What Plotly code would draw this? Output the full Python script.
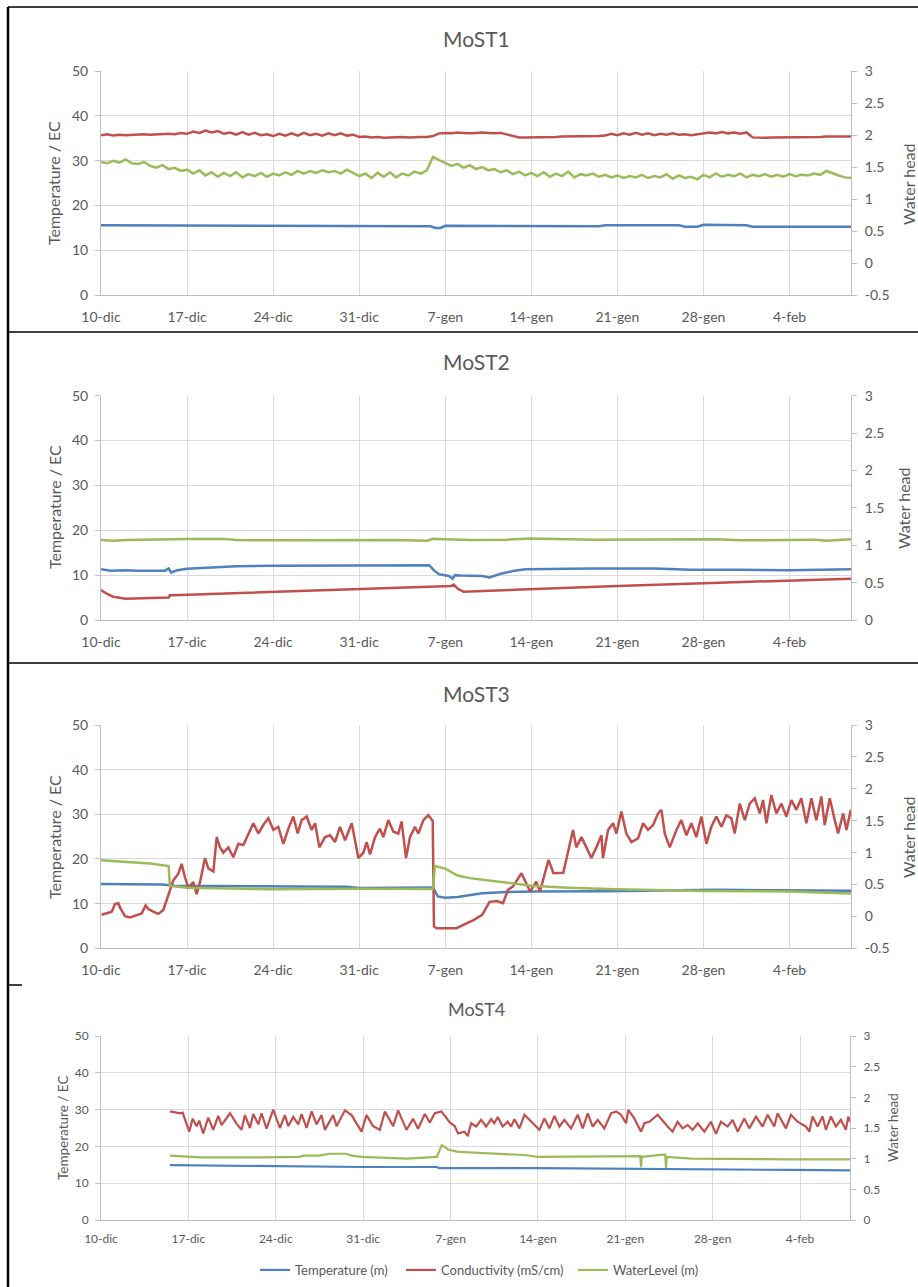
import pandas as pd
import plotly.graph_objects as go

W, H = 918, 1287
BASE = pd.Timestamp("2017-12-10")

# ---------------- data (days since 10-dic) ----------------
tick_labels = ["10-dic", "17-dic", "24-dic", "31-dic", "7-gen", "14-gen", "21-gen", "28-gen", "4-feb"]
tick_days = [0, 7, 14, 21, 28, 35, 42, 49, 56]
head_ticks_a = [-0.5, 0, 0.5, 1, 1.5, 2, 2.5, 3]
head_labels_a = ["-0.5", "0", "0.5", "1", "1.5", "2", "2.5", "3"]
head_ticks_b = [0, 0.5, 1, 1.5, 2, 2.5, 3]
head_labels_b = ["0", "0.5", "1", "1.5", "2", "2.5", "3"]

# MoST1 (half-day sampling)
p1_step = 0.5
p1_cond = [35.7, 35.9, 35.6, 35.8, 35.7, 35.8, 35.8, 35.9, 35.8, 35.9, 35.9, 36.0, 35.9, 36.2,
           36.0, 36.5, 36.2, 36.7, 36.3, 36.6, 36.0, 36.3, 35.8, 36.4, 35.8, 36.2, 35.7, 35.9,
           35.5, 36.0, 35.6, 36.1, 35.6, 36.2, 35.7, 36.0, 35.6, 36.1, 35.7, 36.1, 35.6, 35.8,
           35.3, 35.4, 35.2, 35.3, 35.1, 35.2, 35.2, 35.3, 35.2, 35.3, 35.3, 35.3,
           35.5, 36.1, 36.2, 36.1, 36.3, 36.2, 36.1, 36.2, 36.3, 36.2, 36.1, 36.2, 35.9, 35.5,
           35.2, 35.2, 35.2, 35.3, 35.3, 35.3, 35.3, 35.4, 35.4, 35.4, 35.4, 35.4, 35.5, 35.5,
           35.6, 36.0, 35.7, 36.1, 35.8, 36.2, 35.8, 36.1, 35.7, 36.0, 35.8, 36.1, 35.8, 35.9,
           35.7, 35.9, 36.0, 36.3, 36.1, 36.4, 36.1, 36.3, 36.0, 36.3, 35.2, 35.1, 35.1, 35.2,
           35.2, 35.2, 35.2, 35.3, 35.3, 35.3, 35.3, 35.3, 35.4, 35.4, 35.4, 35.4, 35.4]
p1_level = [1.58, 1.56, 1.60, 1.57, 1.62, 1.56, 1.55, 1.58, 1.52, 1.49, 1.53, 1.47, 1.49, 1.44,
            1.46, 1.40, 1.45, 1.37, 1.42, 1.35, 1.41, 1.36, 1.42, 1.34, 1.39, 1.36, 1.41, 1.35,
            1.40, 1.37, 1.42, 1.38, 1.44, 1.40, 1.44, 1.41, 1.45, 1.42, 1.44, 1.40, 1.46, 1.41,
            1.36, 1.40, 1.33, 1.41, 1.35, 1.42, 1.34, 1.40, 1.37, 1.43, 1.40, 1.45,
            1.66, 1.61, 1.56, 1.52, 1.55, 1.49, 1.53, 1.47, 1.50, 1.45, 1.47, 1.42, 1.45, 1.39,
            1.43, 1.37, 1.41, 1.36, 1.42, 1.35, 1.40, 1.36, 1.43, 1.34, 1.39, 1.37, 1.40, 1.35,
            1.38, 1.34, 1.37, 1.33, 1.36, 1.34, 1.38, 1.33, 1.36, 1.34, 1.39, 1.32, 1.37, 1.33,
            1.35, 1.31, 1.38, 1.34, 1.40, 1.35, 1.38, 1.36, 1.40, 1.34, 1.38, 1.36, 1.39, 1.35,
            1.38, 1.35, 1.39, 1.36, 1.38, 1.37, 1.40, 1.38, 1.44, 1.40, 1.37, 1.34, 1.33]
p1_temp_days = [0, 10, 20, 26.8, 27.2, 27.6, 28, 35, 40.5, 41, 47, 47.5, 48.5, 49, 52.5, 53, 61]
p1_temp = [15.6, 15.5, 15.4, 15.4, 15.0, 15.0, 15.5, 15.4, 15.4, 15.6, 15.6, 15.3, 15.3, 15.7, 15.6, 15.3, 15.3]

# MoST2
p2_temp_days = [0, 0.8, 2, 3, 5.2, 5.5, 5.7, 6.2, 7, 9, 11, 14, 20, 24, 26.7, 27.1, 27.5, 28.3,
                28.6, 28.8, 29.2, 31, 31.6, 32.5, 33.5, 34.5, 36, 40, 45, 48, 52, 56, 61]
p2_temp = [11.3, 11.0, 11.1, 11.0, 11.0, 11.5, 10.6, 11.1, 11.4, 11.7, 12.0, 12.1, 12.2, 12.2,
           12.2, 11.0, 10.2, 9.8, 9.2, 10.0, 9.9, 9.8, 9.5, 10.3, 10.9, 11.3, 11.4, 11.5, 11.5,
           11.2, 11.2, 11.1, 11.3]
p2_cond_days = [0, 0.5, 1, 1.5, 2, 5.5, 5.6, 6.5, 27, 28.5, 28.7, 29, 29.5, 35, 42, 49, 56, 61]
p2_cond = [6.7, 5.8, 5.2, 4.9, 4.75, 5.0, 5.5, 5.6, 7.5, 7.6, 7.9, 7.0, 6.3, 6.9, 7.6, 8.2, 8.8, 9.2]
p2_level_days = [0, 1, 2, 5, 7, 10, 11, 14, 15, 20, 24, 26.5, 27, 28, 30, 33, 35, 40, 45, 50,
                 52, 55, 58, 59, 61]
p2_level = [1.07, 1.06, 1.07, 1.08, 1.085, 1.085, 1.07, 1.065, 1.065, 1.075, 1.07, 1.06, 1.085,
            1.08, 1.07, 1.075, 1.09, 1.075, 1.08, 1.08, 1.065, 1.07, 1.075, 1.06, 1.08]

# MoST3
p3_temp_days = [0, 5, 6, 10, 20, 21, 27, 27.4, 28, 29, 31, 33, 35, 41, 45, 50, 55, 61]
p3_temp = [14.4, 14.3, 14.0, 13.9, 13.8, 13.5, 13.6, 11.6, 11.3, 11.5, 12.3, 12.6, 12.7, 12.8,
           13.0, 13.1, 13.0, 12.9]
p3_level_days = [0, 2, 4, 5.5, 5.6, 7, 14, 21, 27.0, 27.15, 28, 29, 30, 31.7, 33.6, 35, 38, 42,
                 49, 56, 61]
p3_level = [0.88, 0.86, 0.83, 0.79, 0.48, 0.45, 0.425, 0.435, 0.43, 0.79, 0.75, 0.64, 0.60, 0.56,
            0.52, 0.48, 0.45, 0.425, 0.40, 0.39, 0.36]
p3_cond_days = [0.05, 0.46, 0.87, 1.14, 1.41, 1.55, 1.95, 2.36, 2.9, 3.31, 3.63, 3.85, 4.26, 4.66,
                5.07, 5.34, 5.61, 5.88, 6.29, 6.56, 6.83, 7.1, 7.51, 7.78, 8.05, 8.46, 8.73, 9.14,
                9.41, 9.68, 9.95, 10.36, 10.76, 11.17, 11.58, 11.98, 12.39, 12.8, 13.2, 13.61,
                14.02, 14.42, 14.83, 15.24, 15.64, 16.0, 16.32, 16.73, 17.13, 17.41, 17.76, 18.22,
                18.63, 19.03, 19.44, 19.85, 20.39, 20.66, 20.93, 21.34, 21.61, 21.88, 22.29, 22.69,
                22.96, 23.37, 23.78, 24.18, 24.45, 24.81, 25.13, 25.54, 25.81, 26.22, 26.62, 26.81,
                26.98, 27.08, 27.3, 28.9, 29.7, 30.3, 31.0, 31.6, 32.2, 32.7, 33.1, 33.5, 34.2,
                34.9, 35.4, 35.7, 36.4, 36.8, 37.6, 38.0, 38.39, 38.66, 39.07, 39.48, 39.88, 40.29,
                40.7, 40.83, 41.24, 41.65, 41.92, 42.32, 42.73, 43.14, 43.68, 44.09, 44.49, 44.9,
                45.31, 45.58, 45.85, 46.26, 46.8, 47.2, 47.61, 48.02, 48.42, 48.83, 49.24, 49.64,
                50.05, 50.46, 50.86, 51.27, 51.54, 51.95, 52.36, 52.76, 53.17, 53.58, 53.85, 54.12,
                54.52, 54.93, 55.34, 55.74, 56.15, 56.56, 56.96, 57.37, 57.78, 58.18, 58.59, 58.86,
                59.27, 59.68, 59.95, 60.36, 60.63, 60.98]
p3_cond = [7.5, 7.8, 8.2, 9.9, 10.1, 9.1, 7.2, 6.9, 7.4, 7.8, 9.6, 8.8, 8.2, 7.7,
           8.6, 10.7, 12.9, 15.2, 16.7, 18.9, 15.9, 13.6, 14.8, 12.1, 14.8, 20.2, 17.9, 17.2,
           24.9, 22.6, 21.4, 22.6, 20.4, 23.4, 23.1, 25.7, 28.0, 25.7, 27.6, 29.1,
           26.5, 27.2, 23.4, 26.8, 29.5, 25.7, 28.7, 29.5, 26.5, 28.0, 22.6, 24.9,
           25.3, 23.8, 27.2, 24.2, 28.0, 24.2, 20.2, 21.4, 23.8, 21.0, 24.9, 26.8,
           24.9, 28.7, 26.1, 25.7, 28.4, 20.2, 24.9, 27.2, 25.7, 28.7, 29.8, 29.1,
           28.5, 4.9, 4.5, 4.5, 5.6, 6.3, 7.5, 10.4, 10.6, 10.1, 13.1, 13.8, 16.8,
           12.7, 14.9, 12.7, 19.8, 16.8, 16.9, 21.6, 26.5, 22.6, 24.9, 22.6, 20.2, 22.6,
           25.3, 20.2, 26.5, 28.0, 25.7, 30.6, 25.7, 23.8, 24.6, 28.0, 26.5, 27.6,
           30.2, 31.0, 25.7, 22.6, 26.5, 28.7, 25.3, 28.0, 24.9, 29.5, 23.4, 27.2,
           29.5, 27.2, 29.8, 29.1, 25.7, 32.4, 28.7, 32.4, 33.6, 30.2, 33.2, 28.0,
           34.3, 30.2, 32.4, 29.5, 33.2, 31.0, 33.6, 28.0, 33.6, 28.7, 34.0, 27.6,
           33.6, 28.7, 25.7, 30.2, 26.5, 31.0]

# MoST4
p4_temp_days = [5.52, 10, 14.6, 21, 26.9, 27.1, 35, 41.9, 45.9, 55.3, 60]
p4_temp = [14.9, 14.7, 14.6, 14.4, 14.4, 14.1, 14.1, 13.9, 13.7, 13.6, 13.5]
p4_level_days = [5.52, 6.5, 8, 13, 15.9, 16.2, 17.5, 18.3, 19.6, 20.1, 20.9, 24.5, 26.9, 27.3,
                 27.8, 28.6, 31.25, 33.9, 35.0, 39.3, 41.9, 43.2, 43.26, 43.32, 45.2, 45.26, 45.32,
                 47.3, 55.3, 60]
p4_level = [1.05, 1.04, 1.02, 1.02, 1.03, 1.05, 1.05, 1.08, 1.08, 1.05, 1.03, 1.00, 1.03, 1.22,
            1.15, 1.11, 1.08, 1.06, 1.03, 1.03, 1.04, 1.04, 0.86, 1.03, 1.07, 0.85, 1.03,
            1.00, 0.99, 0.99]
p4_cond_days = [5.52, 6.33, 6.54, 7.07, 7.34, 7.66, 7.87, 8.19, 8.59, 8.99, 9.39, 9.66, 10.33,
                10.86, 11.26, 11.53, 11.93, 12.2, 12.6, 12.86, 13.26, 13.8, 14.33, 14.73, 15.0,
                15.4, 15.8, 16.07, 16.47, 16.87, 17.27, 17.67, 17.93, 18.6, 18.87, 19.54, 20.07,
                20.87, 21.27, 21.8, 22.34, 22.74, 23.41, 23.8, 24.47, 25.0, 25.4, 25.94, 26.34,
                26.74, 27.27, 27.94, 28.34, 28.6, 29.11, 29.38, 29.65, 30.05, 30.45, 30.85, 31.25,
                31.5, 31.78, 32.18, 32.58, 32.85, 33.12, 33.52, 33.92, 34.58, 35.12, 35.52, 35.92,
                36.32, 36.72, 37.12, 37.65, 38.19, 38.59, 38.99, 39.39, 39.79, 40.32, 40.86, 41.26,
                41.66, 42.06, 42.24, 42.72, 43.26, 43.53, 43.93, 44.59, 45.39, 45.79, 46.19, 46.59,
                46.99, 47.4, 47.8, 48.33, 48.86, 49.26, 49.66, 50.2, 50.6, 51.0, 51.53, 51.93,
                52.47, 53.0, 53.4, 53.93, 54.2, 54.87, 55.27, 55.8, 56.47, 56.74, 57.0, 57.4,
                57.8, 58.07, 58.47, 58.87, 59.27, 59.67, 59.86, 60.0]
p4_cond = [29.5, 29.0, 29.2, 24.0, 27.5, 25.5, 27.0, 23.5, 27.8, 24.5, 28.3, 25.8, 29.0,
           26.2, 24.5, 28.5, 25.0, 28.8, 26.0, 29.0, 24.8, 30.0, 25.0, 28.5, 25.5,
           28.0, 26.0, 28.8, 25.0, 29.5, 26.0, 28.5, 24.5, 28.5, 25.5, 29.8, 28.5,
           24.0, 28.5, 25.5, 24.5, 29.5, 25.5, 29.8, 24.5, 27.5, 24.8, 28.8, 26.5,
           29.0, 29.5, 26.5, 25.5, 23.5, 24.0, 22.8, 26.3, 25.4, 27.2, 25.4, 27.4,
           26.3, 28.0, 25.4, 26.7, 25.4, 27.4, 24.9, 28.6, 26.3, 24.5, 27.6, 24.9,
           28.3, 25.4, 27.2, 24.9, 28.6, 24.9, 29.0, 25.4, 27.2, 24.9, 29.0, 29.5,
           28.6, 26.3, 29.9, 27.6, 24.0, 26.3, 26.7, 28.6, 25.4, 24.0, 26.7, 24.9,
           25.8, 24.5, 26.3, 24.0, 26.7, 23.4, 26.7, 25.4, 27.2, 24.0, 27.6, 24.9,
           28.1, 25.4, 28.6, 25.4, 29.0, 24.9, 28.6, 26.7, 25.4, 24.0, 28.1, 25.4,
           28.1, 24.5, 28.1, 25.4, 27.2, 24.5, 28.1, 26.7]

series_names = ["Temperature (m)", "Conductivity (mS/cm)", "WaterLevel (m)"]
panel_titles = ["MoST1", "MoST2", "MoST3", "MoST4"]

# ---------------- styling ----------------
BLUE, RED, GREEN = "#4F81BD", "#C0504D", "#9BBB59"
TXT = "#595959"
GRID = "#D9D9D9"
AXL = "#BFBFBF"
FONT = "Lato"


def px(x):
    return x / W


def py(y):
    return 1 - y / H


def to_dates(days):
    return [BASE + pd.Timedelta(days=float(d)) for d in days]


def regular_days(n, step):
    return [i * step for i in range(n)]


panels = [
    dict(top=71, bottom=295.3, right=851, end=61, neg=True, big=True,
         temp=(p1_temp_days, p1_temp), cond=(regular_days(len(p1_cond), p1_step), p1_cond),
         level=(regular_days(len(p1_level), p1_step), p1_level),
         title_y=38, lt=(54, 183), rt=(908, 184)),
    dict(top=395.7, bottom=620, right=851, end=61, neg=False, big=True,
         temp=(p2_temp_days, p2_temp), cond=(p2_cond_days, p2_cond), level=(p2_level_days, p2_level),
         title_y=362, lt=(54, 507), rt=(903, 508)),
    dict(top=725, bottom=948.3, right=851, end=61, neg=True, big=True,
         temp=(p3_temp_days, p3_temp), cond=(p3_cond_days, p3_cond), level=(p3_level_days, p3_level),
         title_y=693, lt=(54, 837), rt=(908, 837)),
    dict(top=1036, bottom=1220, right=850, end=60, neg=False, big=False,
         temp=(p4_temp_days, p4_temp), cond=(p4_cond_days, p4_cond), level=(p4_level_days, p4_level),
         title_y=1009, lt=(63, 1128), rt=(893, 1128)),
]

fig = go.Figure()
annotations = []
legend_names = ["legend", "legend2", "legend3"]

for i, p in enumerate(panels):
    n = i + 1
    xa = "x" if n == 1 else f"x{n}"
    ya_l = f"y{2 * n - 1}" if n > 1 else "y"
    ya_r = f"y{2 * n}"
    last = (n == 4)
    fs = 14 if p["big"] else 12
    lw = 2.5 if p["big"] else 2.2

    for (days, vals), color, ya, k in [(p["temp"], BLUE, ya_l, 0), (p["cond"], RED, ya_l, 1),
                                       (p["level"], GREEN, ya_r, 2)]:
        fig.add_trace(go.Scatter(
            x=to_dates(days), y=vals, mode="lines", name=series_names[k],
            line=dict(color=color, width=lw), xaxis=xa, yaxis=ya,
            showlegend=last, legend=legend_names[k], hoverinfo="skip"))

    xkey = "xaxis" if n == 1 else f"xaxis{n}"
    ylkey = "yaxis" if n == 1 else f"yaxis{2 * n - 1}"
    yrkey = f"yaxis{2 * n}"
    fig.layout[xkey] = dict(
        domain=[px(101), px(p["right"])], anchor=ya_l, type="date", automargin=False,
        range=[BASE, BASE + pd.Timedelta(days=p["end"])],
        tickvals=to_dates(tick_days), ticktext=tick_labels,
        showgrid=True, gridcolor=GRID, gridwidth=1, showline=True, linecolor=AXL, linewidth=1,
        ticks="", tickfont=dict(family=FONT, size=fs, color=TXT),
        ticklabelstandoff=9 if p["big"] else 8, zeroline=False, fixedrange=True)
    fig.layout[ylkey] = dict(
        domain=[py(p["bottom"]), py(p["top"])], anchor=xa, range=[0, 50], dtick=10, tick0=0,
        automargin=False,
        showgrid=True, gridcolor=GRID, gridwidth=1, showline=True, linecolor=AXL, linewidth=1,
        ticks="outside", ticklen=5, tickcolor=AXL, tickfont=dict(family=FONT, size=fs, color=TXT),
        ticklabelstandoff=4, zeroline=False, fixedrange=True)
    fig.layout[yrkey] = dict(
        domain=[py(p["bottom"]), py(p["top"])], anchor=xa, overlaying=ya_l, side="right",
        range=[-0.5, 3] if p["neg"] else [0, 3], automargin=False,
        tickvals=head_ticks_a if p["neg"] else head_ticks_b,
        ticktext=head_labels_a if p["neg"] else head_labels_b,
        showgrid=False, showline=True, linecolor=AXL,
        linewidth=1, ticks="outside", ticklen=5, tickcolor=AXL,
        tickfont=dict(family=FONT, size=fs, color=TXT), ticklabelstandoff=5,
        zeroline=False, fixedrange=True)

    afs = 16 if p["big"] else 13.5
    annotations.append(dict(text=panel_titles[i], x=px(476), y=py(p["title_y"]), xref="paper",
                            yref="paper", showarrow=False, xanchor="center", yanchor="middle",
                            font=dict(family=FONT, size=21 if p["big"] else 18, color=TXT)))
    annotations.append(dict(text="Temperature / EC", x=px(p["lt"][0]), y=py(p["lt"][1]),
                            xref="paper", yref="paper", showarrow=False, textangle=-90,
                            xanchor="center", yanchor="middle",
                            font=dict(family=FONT, size=afs, color=TXT)))
    annotations.append(dict(text="Water head", x=px(p["rt"][0]), y=py(p["rt"][1]),
                            xref="paper", yref="paper", showarrow=False, textangle=-90,
                            xanchor="center", yanchor="middle",
                            font=dict(family=FONT, size=afs, color=TXT)))

# frame lines around the panels
shapes = [
    dict(type="line", xref="paper", yref="paper", x0=px(8), x1=px(8), y0=py(7), y1=py(H),
         line=dict(color="black", width=2.5)),
    dict(type="line", xref="paper", yref="paper", x0=px(8), x1=px(W), y0=py(7), y1=py(7),
         line=dict(color="black", width=1.5)),
    dict(type="line", xref="paper", yref="paper", x0=px(8), x1=px(W), y0=py(332), y1=py(332),
         line=dict(color="black", width=1.5)),
    dict(type="line", xref="paper", yref="paper", x0=px(8), x1=px(W), y0=py(663), y1=py(663),
         line=dict(color="black", width=1.5)),
    dict(type="line", xref="paper", yref="paper", x0=px(8), x1=px(22), y0=py(985), y1=py(985),
         line=dict(color="black", width=1.5)),
]

legend_x = [255, 401, 573]
legend_cfg = {}
for k, name in enumerate(legend_names):
    legend_cfg[name] = dict(x=px(legend_x[k]), y=py(1270), xanchor="left", yanchor="middle",
                            orientation="h", bgcolor="rgba(0,0,0,0)", itemwidth=30,
                            font=dict(family=FONT, size=13, color=TXT), tracegroupgap=0)

fig.update_layout(width=W, height=H, margin=dict(l=0, r=0, t=0, b=0, autoexpand=False),
                  paper_bgcolor="white", plot_bgcolor="white", showlegend=True,
                  annotations=annotations, shapes=shapes, **legend_cfg)

fig.write_html("out.html", config={"displayModeBar": False, "responsive": False},
               post_script="document.body.style.margin='0';document.body.style.overflow='hidden';")
